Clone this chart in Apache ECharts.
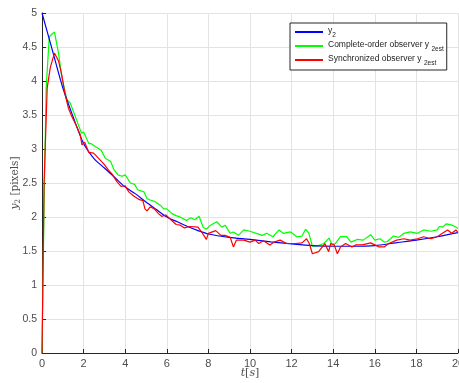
<!DOCTYPE html>
<html>
<head>
<meta charset="utf-8">
<script src="https://cdn.jsdelivr.net/npm/echarts@6/dist/echarts.min.js"></script>
<style>
  html, body { margin: 0; padding: 0; background: #fff; }
  #chart { width: 459px; height: 383px; }
</style>
</head>
<body>
<div id="chart"></div>
<script>
// y2 (true output)
const tBlue = [0, 0.5, 1, 1.5, 2, 2.5, 3, 3.5, 4, 4.5, 5, 5.5, 6, 6.5, 7, 7.5, 8, 9, 10, 11, 12, 13, 14, 15, 16, 17, 18, 19, 20];
const yBlue = [5.0, 4.45, 3.9, 3.47, 3.08, 2.86, 2.72, 2.58, 2.44, 2.34, 2.22, 2.11, 2.0, 1.93, 1.86, 1.8, 1.75, 1.7, 1.67, 1.635, 1.605, 1.58, 1.57, 1.57, 1.58, 1.62, 1.66, 1.71, 1.77];

// complete-order observer estimate
const tGreen = [0, 0.1, 0.2, 0.35, 0.45, 0.6, 0.8, 0.95, 1.2, 1.35, 1.6, 1.9, 2.0, 2.25, 2.35, 2.6, 2.85, 3.05, 3.3, 3.45, 3.65, 3.85, 4.0, 4.25, 4.45, 4.6, 4.9, 5.05, 5.2, 5.4, 5.7, 5.85, 6.0, 6.25, 6.45, 6.7, 6.95, 7.15, 7.35, 7.55, 7.75, 7.9, 8.1, 8.4, 8.65, 8.8, 9.05, 9.2, 9.45, 9.7, 10.0, 10.3, 10.6, 10.8, 11.1, 11.4, 11.6, 11.95, 12.25, 12.5, 12.67, 12.83, 13.0, 13.2, 13.55, 13.8, 13.95, 14.1, 14.35, 14.65, 14.85, 15.15, 15.45, 15.8, 16.0, 16.25, 16.45, 16.6, 16.9, 17.15, 17.4, 17.7, 18.05, 18.35, 18.7, 19.0, 19.1, 19.25, 19.45, 19.7, 19.85, 20];
const yGreen = [0, 2.2, 3.9, 4.65, 4.68, 4.72, 4.4, 4.06, 3.72, 3.68, 3.48, 3.23, 3.25, 3.08, 3.08, 3.03, 2.98, 2.86, 2.82, 2.7, 2.62, 2.6, 2.62, 2.5, 2.48, 2.4, 2.37, 2.27, 2.25, 2.23, 2.17, 2.12, 2.12, 2.05, 2.02, 1.99, 1.95, 1.99, 1.96, 2.01, 1.85, 1.82, 1.88, 1.93, 1.85, 1.88, 1.76, 1.78, 1.73, 1.81, 1.79, 1.76, 1.73, 1.76, 1.71, 1.81, 1.76, 1.78, 1.71, 1.72, 1.82, 1.76, 1.57, 1.57, 1.61, 1.69, 1.59, 1.61, 1.71, 1.71, 1.63, 1.67, 1.66, 1.74, 1.66, 1.68, 1.63, 1.64, 1.72, 1.70, 1.76, 1.78, 1.76, 1.81, 1.79, 1.81, 1.86, 1.85, 1.9, 1.88, 1.86, 1.83];

// synchronized observer estimate
const tRed = [0, 0.1, 0.25, 0.4, 0.6, 0.8, 0.95, 1.1, 1.27, 1.43, 1.67, 1.84, 1.92, 2.05, 2.25, 2.48, 2.7, 2.97, 3.2, 3.37, 3.6, 3.8, 4.0, 4.17, 4.41, 4.65, 4.85, 4.95, 5.05, 5.2, 5.4, 5.6, 5.75, 5.95, 6.2, 6.45, 6.65, 6.85, 7.1, 7.5, 7.65, 7.9, 8.0, 8.35, 8.6, 8.8, 9.05, 9.2, 9.35, 9.7, 10.0, 10.25, 10.42, 10.65, 10.95, 11.15, 11.45, 11.75, 12.2, 12.5, 12.72, 12.85, 13.0, 13.3, 13.6, 13.78, 13.88, 14.05, 14.2, 14.35, 14.6, 14.9, 15.1, 15.4, 15.8, 16.0, 16.2, 16.45, 16.67, 17.05, 17.4, 17.7, 18.05, 18.35, 18.7, 19.0, 19.25, 19.5, 19.7, 19.9, 20];
const yRed = [0, 2.5, 3.9, 4.2, 4.41, 4.29, 4.09, 3.82, 3.6, 3.48, 3.33, 3.21, 3.06, 3.1, 2.95, 2.94, 2.87, 2.78, 2.69, 2.63, 2.52, 2.45, 2.46, 2.37, 2.31, 2.26, 2.24, 2.12, 2.09, 2.15, 2.12, 2.05, 2.01, 2.03, 1.96, 1.89, 1.88, 1.84, 1.86, 1.85, 1.79, 1.67, 1.76, 1.8, 1.73, 1.73, 1.7, 1.56, 1.66, 1.66, 1.63, 1.66, 1.61, 1.65, 1.59, 1.63, 1.66, 1.61, 1.61, 1.62, 1.68, 1.61, 1.46, 1.49, 1.61, 1.49, 1.61, 1.59, 1.46, 1.56, 1.61, 1.56, 1.59, 1.59, 1.62, 1.59, 1.56, 1.56, 1.61, 1.66, 1.68, 1.66, 1.68, 1.71, 1.68, 1.71, 1.76, 1.81, 1.76, 1.81, 1.77];

const xTicks = [0, 2, 4, 6, 8, 10, 12, 14, 16, 18, 20];
const yTicks = [0, 0.5, 1, 1.5, 2, 2.5, 3, 3.5, 4, 4.5, 5];

const pairs = (ts, ys) => ts.map((t, i) => [t, ys[i]]);

const chart = echarts.init(document.getElementById('chart'));

const axisColor = '#262626';
const labelColor = '#4d4d4d';

const option = {
  animation: false,
  backgroundColor: '#fff',
  grid: { left: 42, right: 1, top: 13, bottom: 30, containLabel: false, outerBoundsMode: 'none' },
  legend: {
    orient: 'vertical',
    left: 290,
    top: 23,
    padding: [3, 3, 3, 5],
    itemGap: 1,
    itemWidth: 28,
    itemHeight: 2,
    icon: 'rect',
    backgroundColor: '#fff',
    borderColor: axisColor,
    borderWidth: 1,
    borderRadius: 0,
    textStyle: {
      fontFamily: 'Liberation Sans, Arial, sans-serif',
      fontSize: 8.5,
      color: '#222',
      rich: {
        m: { fontFamily: 'Liberation Sans', fontSize: 8.5, color: '#222', padding: [0, 0, 3, 0] },
        s: { fontFamily: 'Liberation Sans', fontSize: 6.5, color: '#222', padding: [7, 0, 0, 0] }
      }
    },
    formatter: function (name) {
      if (name === 'y2') return '{m|y}{s|2}';
      if (name === 'co') return '{m|Complete-order observer y }{s|2est}';
      return '{m|Synchronized observer y }{s|2est}';
    },
    data: ['y2', 'co', 'sync']
  },
  xAxis: {
    type: 'value',
    min: 0,
    max: 20,
    interval: 2,
    name: '{i|t}{n|[}{i|s}{n|]}',
    nameLocation: 'middle',
    nameGap: 15,
    nameMoveOverlap: false,
    nameTextStyle: {
      rich: {
        i: { fontFamily: 'DejaVu Serif, Liberation Serif, serif', fontStyle: 'italic', fontSize: 11, color: labelColor },
        n: { fontFamily: 'DejaVu Serif, Liberation Serif, serif', fontSize: 11, color: labelColor }
      }
    },
    axisLine: { show: true, lineStyle: { color: axisColor, width: 1 } },
    axisTick: { show: true, inside: true, length: 4, lineStyle: { color: axisColor } },
    axisLabel: {
      color: labelColor, fontFamily: 'Liberation Sans, Arial, sans-serif', fontSize: 11, margin: 5,
      formatter: v => xTicks.includes(v) ? String(v) : ''
    },
    splitLine: { show: true, lineStyle: { color: '#e3e3e3', width: 1 } }
  },
  yAxis: {
    type: 'value',
    min: 0,
    max: 5,
    interval: 0.5,
    name: '{i|y}{s|2} {n|[pixels]}',
    nameLocation: 'middle',
    nameGap: 20,
    nameMoveOverlap: false,
    nameTextStyle: {
      rich: {
        i: { fontFamily: 'DejaVu Serif, Liberation Serif, serif', fontStyle: 'italic', fontSize: 10.5, color: labelColor },
        s: { fontFamily: 'DejaVu Serif, Liberation Serif, serif', fontSize: 7.5, color: labelColor, padding: [5, 0, 0, 0] },
        n: { fontFamily: 'DejaVu Serif, Liberation Serif, serif', fontSize: 10.5, color: labelColor }
      }
    },
    axisLine: { show: true, lineStyle: { color: axisColor, width: 1 } },
    axisTick: { show: true, inside: true, length: 4, lineStyle: { color: axisColor } },
    axisLabel: {
      color: labelColor, fontFamily: 'Liberation Sans, Arial, sans-serif', fontSize: 10.5, margin: 5,
      formatter: v => yTicks.includes(v) ? String(v) : ''
    },
    splitLine: { show: true, lineStyle: { color: '#e3e3e3', width: 1 } }
  },
  series: [
    {
      name: 'y2',
      type: 'line',
      data: pairs(tBlue, yBlue),
      smooth: 0.3,
      symbol: 'none',
      lineStyle: { color: '#0000ff', width: 1.2 },
      itemStyle: { color: '#0000ff' },
      z: 3
    },
    {
      name: 'co',
      type: 'line',
      data: pairs(tGreen, yGreen),
      symbol: 'none',
      lineStyle: { color: '#00ff00', width: 1.2 },
      itemStyle: { color: '#00ff00' },
      z: 2
    },
    {
      name: 'sync',
      type: 'line',
      data: pairs(tRed, yRed),
      symbol: 'none',
      lineStyle: { color: '#ff0000', width: 1.2 },
      itemStyle: { color: '#ff0000' },
      z: 4
    }
  ]
};

chart.setOption(option);
</script>
</body>
</html>
